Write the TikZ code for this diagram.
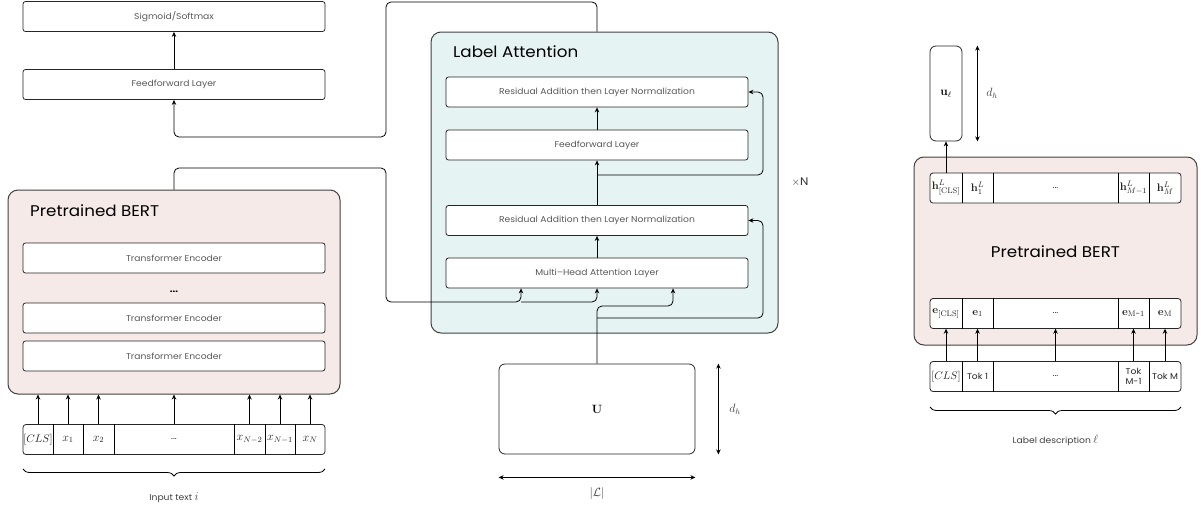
\documentclass[tikz,border=0pt]{standalone}
\usepackage{amsmath,amssymb}
\usepackage[no-math]{fontspec}
\setmainfont{Poppins}[FakeStretch=1.08]
\usetikzlibrary{arrows.meta}
\usetikzlibrary{decorations.pathreplacing}
\definecolor{bertpink}{HTML}{F6EAE8}
\definecolor{attteal}{HTML}{E5F3F3}
\newcommand\boxfont{\fontsize{8.5}{10}\selectfont}
\newcommand\mathfont{\fontsize{12}{14}\selectfont}
\newcommand\vecfont{\fontsize{11}{13}\selectfont}
\tikzset{
every node/.style={inner sep=0pt},
layer/.style={rectangle, rounded corners=2.5pt, draw=black!85, fill=white, line width=0.8pt, minimum width=302pt, minimum height=30pt, text=black!65, font=\boxfont},
panel/.style={rectangle, rounded corners=10pt, draw=black!75, line width=1pt},
mat/.style={rectangle, rounded corners=6pt, draw=black!85, line width=0.8pt, font=\mathfont},
row/.style={rectangle, rounded corners=3pt, draw=black!85, fill=white, line width=0.8pt, minimum height=30pt},
cell/.style={rectangle, minimum height=30pt, font=\mathfont, text=black!85, align=center},
title/.style={font=\fontsize{15.5}{18}\selectfont},
lbl/.style={font=\boxfont, text=black!75},
link/.style={rounded corners=5pt, line width=0.8pt},
arr/.style={-{Stealth[length=5pt,width=4.5pt]}},
dim/.style={{Stealth[length=5pt,width=4.5pt]}-{Stealth[length=5pt,width=4.5pt]}, line width=0.8pt},
brace/.style={decorate, decoration={brace, amplitude=7pt, mirror}, line width=0.8pt}
}

\begin{document}
\begin{tikzpicture}[x=1pt,y=-1pt]
\useasboundingbox (0,0) rectangle (1202,509);

\node [layer] (sig) at (174,16.5) {Sigmoid/Softmax};
\node [layer] (ffl) at (174,84.5) {Feedforward Layer};
\node [panel, fill=bertpink, minimum width=332pt, minimum height=204pt] (bertL) at (174,292) {};
\node [title, anchor=west] (bertLtitle) at (30,211) {Pretrained BERT};
\node [layer] (te1) at (174,258) {Transformer Encoder};
\node [font=\fontsize{9}{10}\selectfont\bfseries] (tedots) at (174,292) {...};
\node [layer] (te2) at (174,318) {Transformer Encoder};
\node [layer] (te3) at (174,356) {Transformer Encoder};

\node [row, minimum width=302pt] (inrow) at (174,439.5) {};
\node [cell, minimum width=30pt, font=\vecfont] (cls) at (38,439.5) {$[CLS]$};
\node [cell, minimum width=30pt] (x1) at (68,439.5) {$x_1$};
\node [cell, minimum width=31pt] (x2) at (98.5,439.5) {$x_2$};
\node [cell, minimum width=120pt, font=\boxfont] (xdots) at (174,439.5) {...};
\node [cell, minimum width=31pt] (xn2) at (249.5,439.5) {$x_{N-2}$};
\node [cell, minimum width=30pt] (xn1) at (280,439.5) {$x_{N-1}$};
\node [cell, minimum width=30pt] (xn) at (310,439.5) {$x_N$};
\foreach \c in {cls,x1,x2,xdots,xn2,xn1}
  \draw [line width=0.8pt] (\c.north east) -- (\c.south east);
\foreach \c in {cls,x1,x2,xdots,xn2,xn1,xn}
  \draw [arr, line width=0.8pt] (\c.north) -- (\c.north |- bertL.south);
\draw [brace] (23,469) -- (325,469);
\node [lbl] (intext) at (174,498) {Input text {\mathfont$i$}};

\node [panel, fill=attteal, minimum width=347pt, minimum height=301pt] (att) at (604.5,182.5) {};
\node [title, anchor=west] (atttitle) at (453,52) {Label Attention};
\node [layer] (raln1) at (597,92) {Residual Addition then Layer Normalization};
\node [layer] (ffm) at (597,145) {Feedforward Layer};
\node [layer] (raln2) at (597,220.5) {Residual Addition then Layer Normalization};
\node [layer] (mha) at (597,273) {Multi--Head Attention Layer};
\node [font=\fontsize{11}{13}\selectfont, text=black!80] (times) at (800,182) {$\times$N};

\draw [arr, line width=0.8pt] (mha.north) -- (raln2.south);
\draw [arr, line width=0.8pt] (raln2.north) -- (ffm.south);
\draw [arr, line width=0.8pt] (ffm.north) -- (raln1.south);
\draw [link, arr] (597,175) -| (763,92) -- (raln1.east);

\node [mat, minimum width=196pt, minimum height=90pt] (U) at (597,409) {$\mathbf{U}$};
\draw [dim] ([xshift=23pt]U.north east) -- ([xshift=23pt]U.south east);
\node [lbl, font=\mathfont] (dhU) at (735,409) {$d_h$};
\draw [dim] ([yshift=-23pt]U.south west) -- ([yshift=-23pt]U.south east);
\node [lbl, font=\mathfont] (card) at (597,493) {$|\mathcal{L}|$};

\coordinate (atttop) at (mha.north |- att.north);
\draw [link, arr] (atttop) |- (386,2) |- (174,137) -- (ffl.south);
\draw [arr, line width=0.8pt] (sig.south |- ffl.north) -- (sig.south);
\draw [link, arr] (bertL.north) |- (386,168) |- (521,302) -- ([xshift=-76pt]mha.south);
\draw [link, arr] (521,302) -| (mha.south);
\draw [link, arr] (U.north) |- (673,306) -- ([xshift=76pt]mha.south);
\draw [link, arr] (597,318) -| (763,220.5) -- (raln2.east);

\node [mat, minimum width=32pt, minimum height=95pt] (uvec) at (946,93.5) {$\mathbf{u}_\ell$};
\draw [dim] ([xshift=15pt]uvec.north east) -- ([xshift=15pt]uvec.south east);
\node [lbl, font=\mathfont] (dhu) at (992,93) {$d_h$};
\node [panel, fill=bertpink, minimum width=283pt, minimum height=188pt] (bertR) at (1055.5,251) {};
\node [title] (bertRtitle) at (1055.5,252) {Pretrained BERT};

\node [row, minimum width=251pt] (hrow) at (1055.5,188) {};
\node [cell, minimum width=32pt, font=\vecfont] (h0) at (946,188) {$\mathbf{h}^L_{[\mathrm{CLS}]}$};
\node [cell, minimum width=31pt, font=\vecfont] (h1) at (977.5,188) {$\mathbf{h}^L_1$};
\node [cell, minimum width=125pt, font=\boxfont] (hd) at (1055.5,188) {...};
\node [cell, minimum width=31pt, font=\vecfont] (hm1) at (1133.5,188) {$\mathbf{h}^L_{M-1}$};
\node [cell, minimum width=32pt, font=\vecfont] (hm) at (1165,188) {$\mathbf{h}^L_M$};

\node [row, minimum width=251pt] (erow) at (1055.5,313.5) {};
\node [cell, minimum width=32pt, font=\vecfont] (e0) at (946,313.5) {$\mathbf{e}_{[\mathrm{CLS}]}$};
\node [cell, minimum width=31pt, font=\vecfont] (e1) at (977.5,313.5) {$\mathbf{e}_1$};
\node [cell, minimum width=125pt, font=\boxfont] (ed) at (1055.5,313.5) {...};
\node [cell, minimum width=31pt, font=\vecfont] (em1) at (1133.5,313.5) {$\mathbf{e}_{\mathrm{M\text{-}1}}$};
\node [cell, minimum width=32pt, font=\vecfont] (em) at (1165,313.5) {$\mathbf{e}_{\mathrm{M}}$};

\node [row, minimum width=251pt] (tokrow) at (1055.5,376.5) {};
\node [cell, minimum width=32pt, font=\vecfont] (t0) at (946,376.5) {$[CLS]$};
\node [cell, minimum width=31pt, font=\boxfont] (t1) at (977.5,376.5) {Tok 1};
\node [cell, minimum width=125pt, font=\boxfont] (td) at (1055.5,376.5) {...};
\node [cell, minimum width=31pt, font=\boxfont] (tm1) at (1133.5,376.5) {Tok\\M-1};
\node [cell, minimum width=32pt, font=\boxfont] (tm) at (1165,376.5) {Tok M};

\foreach \r in {h,e,t} {
  \foreach \c in {0,1,d,m1}
    \draw [line width=0.8pt] (\r\c.north east) -- (\r\c.south east);
}
\draw [arr, line width=0.8pt] (h0.north) -- (uvec.south);
\foreach \c in {0,1,d,m1,m}
  \draw [arr, line width=0.8pt] (t\c.north) -- (e\c.south);
\draw [brace] (930,407) -- (1181,407);
\node [lbl] (labdesc) at (1055.5,440) {Label description {\mathfont$\ell$}};
\end{tikzpicture}
\end{document}
